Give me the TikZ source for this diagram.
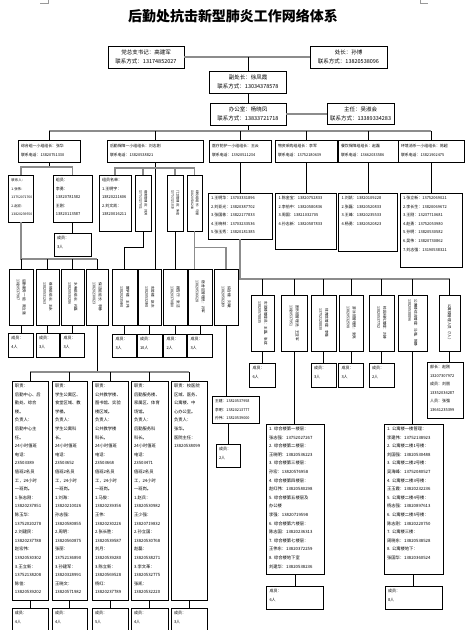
\documentclass[tikz,border=0pt]{standalone}
\usepackage{fontspec}
\setmainfont{Noto Sans CJK SC}
\usepackage{graphicx}
\usepackage{tikz}
\usetikzlibrary{calc}
\newcommand\vtext[2]{\rotatebox{-90}{\begin{tabular}{@{}l@{}}#1\\#2\end{tabular}}}

\begin{document}
\begin{tikzpicture}[x=1pt,y=-1pt,
  box/.style={draw,line width=0.7pt,fill=white,inner xsep=3pt,align=left},
  headbox/.style={box,align=center,inner ysep=1pt,font=\fontsize{5.5}{8.5}\selectfont},
  grpbox/.style={box,inner ysep=1pt,font=\fontsize{3.9}{9}\selectfont},
  infobox/.style={box,inner ysep=2pt,text height=4.5pt,font=\fontsize{4}{8.6}\selectfont},
  longbox/.style={infobox,font=\fontsize{4.3}{8.6}\selectfont},
  rotbox/.style={draw,line width=0.7pt,fill=white,inner sep=0pt,font=\fontsize{3.6}{6}\selectfont},
  gline/.style={draw=black!45,line width=1.3pt},
  bline/.style={draw=black,line width=0.6pt}]
\clip (0,0) rectangle (469,630);
\draw[black!40,line width=0.4pt] (40,3) -- (48,3) -- (48,0) (420,0) -- (420,3) -- (428,3);
\node[font=\fontsize{14}{16}\selectfont\bfseries] (title) at (233,16) {后勤处抗击新型肺炎工作网络体系};

\node[headbox,text width=70pt,minimum height=22] (dw)  at (146,57)    {党总支书记：高建军\\联系方式：13174852027};
\node[headbox,text width=71pt,minimum height=22] (cz)  at (348.5,57)  {处长：孙博\\联系方式：13820538096};
\node[headbox,text width=71pt,minimum height=22] (fcz) at (248,82)    {副处长：徐凤霞\\联系方式：13034378578};
\node[headbox,text width=70pt,minimum height=22] (bgs) at (248,114)   {办公室：杨晓凤\\联系方式：13833721718};
\node[headbox,text width=61pt,minimum height=21] (zr)  at (360.5,114) {主任：吴淑会\\联系方式：13389334283};

\node[grpbox,text width=56pt,minimum height=22] (g1) at (49,151)  {综合组一小组组长：张华\\联系电话：13820751330};
\node[grpbox,text width=90pt,minimum height=22] (g2) at (155,151) {后勤保障一小组组长：刘志刚\\联系电话：13820538821};
\node[grpbox,text width=56pt,minimum height=22] (g3) at (240,151) {医疗防护一小组组长：王云\\联系电话：13920511234};
\node[grpbox,text width=56pt,minimum height=22] (g4) at (306,151) {物资采购组组长：李军\\联系电话：13752180639};
\node[grpbox,text width=54pt,minimum height=22] (g5) at (368,151) {餐饮保障组组长：赵磊\\联系电话：13662033586};
\node[grpbox,text width=60pt,minimum height=22] (g6) at (431,151) {环境消杀一小组组长：陈超\\联系电话：13821902475};

\node[infobox,text width=19pt,text depth=38.5pt,font=\fontsize{3.4}{8.6}\selectfont] (l1) at (21,198.5) {联系人：\\1.张伟：\\13752071760\\2.赵宏：\\13820239550};
\node[infobox,text width=33pt,text depth=38.5pt] (l2)  at (72.5,198.5) {组员：\\李勇：\\13820781582\\王刚：\\13820113587};
\node[infobox,text width=31pt,text depth=14.5pt] (l2b) at (72.5,244.5) {成员：\\3人};
\node[infobox,text width=26pt,text depth=47.5pt] (m1)  at (115,203)    {组员名单：\\1.王明宇：\\13820221606\\2.刘文凯：\\13820016211};
\node[rotbox,minimum width=16,minimum height=56,font=\fontsize{3.2}{5}\selectfont] (m2) at (143,203)   {\vtext{宿舍管理员：刘芳}{13752127811}};
\node[rotbox,minimum width=16,minimum height=56,font=\fontsize{3.2}{5}\selectfont] (m3) at (175,203)   {\vtext{门卫管理员：朱宏}{13752121830}};
\node[rotbox,minimum width=15,minimum height=56,font=\fontsize{3.2}{5}\selectfont] (m4) at (194.5,203) {\vtext{绿化组组长：马丽}{13820536208}};

\node[infobox,text width=58pt,text depth=37.5pt] (r1) at (240,216) {1.王明华：13703331896\\2.刘亚光：13820387702\\3.张国栋：13822177833\\4.王晓林：13703233536\\5.张玉秀：13820181385};
\node[infobox,text width=55pt,text depth=47.5pt] (r2) at (306,221) {1.陈金宝：13820752833\\2.李伯中：13820580836\\3.周国：13821032705\\4.孙志新：13820587833};
\node[infobox,text width=53pt,text depth=49.5pt] (r3) at (368,222) {1.刘凯：13820109228\\2.张磊：13820520833\\3.王峰：13820235533\\4.杨勇：13820520823};
\node[infobox,text width=56pt,text depth=65.5pt] (r4) at (431,230) {1.张立新：13752069021\\2.李长生：13820069672\\3.王刚：13237710681\\4.赵勇：13752053980\\5.孙明：13820530582\\6.吴伟：13820730862\\7.刘志强：13190538321};

\node[rotbox,minimum width=24,minimum height=56] (v1) at (21,297)    {\vtext{后勤服务一组：周立强}{13820537987}};
\node[rotbox,minimum width=23,minimum height=56] (v2) at (47.5,297)  {\vtext{维修组组长：王永}{13820531263}};
\node[rotbox,minimum width=23,minimum height=56] (v3) at (72.5,297)  {\vtext{水电组组长：孙磊}{13820530286}};
\node[rotbox,minimum width=22,minimum height=56] (v4) at (97,297)    {\vtext{保洁组组长：李静}{13820230823}};
\node[rotbox,minimum width=25,minimum height=56] (m5) at (124.5,297) {\vtext{教学楼：王伟}{13820235698}};
\node[rotbox,minimum width=23,minimum height=56] (m6) at (149.5,297) {\vtext{实验楼：赵东}{13820532098}};
\node[rotbox,minimum width=24,minimum height=56] (m7) at (175,297)   {\vtext{报告厅：张洁}{13820370830}};
\node[rotbox,minimum width=24,minimum height=56] (m8) at (200,297)   {\vtext{宿舍区管理员：孙军}{13820536628}};
\node[rotbox,minimum width=24,minimum height=56] (m9) at (226,297)   {\vtext{综合楼：刘敏}{13820582209}};

\node[infobox,text width=19pt,text depth=15.5pt] (s1) at (21,345)     {成员：\\4人};
\node[infobox,text width=17pt,text depth=15.5pt] (s2) at (47.5,345)   {成员：\\3人};
\node[infobox,text width=18pt,text depth=15.5pt] (s3) at (72.5,345)   {成员：\\3人};
\node[infobox,text width=18pt,text depth=14.5pt] (t5) at (124.5,345.5) {成员：\\3人};
\node[infobox,text width=19pt,text depth=14.5pt] (t6) at (149.5,345.5) {成员：\\10人};
\node[infobox,text width=17pt,text depth=14.5pt] (t7) at (175,345.5)   {成员：\\2人};
\node[infobox,text width=19pt,text depth=14.5pt] (t8) at (200,345.5)   {成员：\\3人};

\node[rotbox,minimum width=23,minimum height=56] (w1) at (262.5,323) {\vtext{实验楼管理员：王磊、张斌}{13820578835}};
\node[rotbox,minimum width=26,minimum height=56] (w2) at (294,323)   {\vtext{图书馆管理员：王亚军}{13820537951}};
\node[rotbox,minimum width=25,minimum height=56] (w3) at (323.5,323) {\vtext{体育馆管理：李强}{13752128830}};
\node[rotbox,minimum width=24,minimum height=56] (w4) at (351,323)   {\vtext{游泳馆管理员：张亮}{13820532598}};
\node[rotbox,minimum width=25,minimum height=56] (w5) at (381.5,323) {\vtext{校园绿化管理：刘涛}{13820537752}};
\node[rotbox,minimum width=29,minimum height=56] (w6) at (412.5,323) {\vtext{公寓楼综合管理：马强、陈静}{13820538896}};
\node[rotbox,minimum width=21,minimum height=56] (w7) at (449.5,323) {\rotatebox{-90}{公寓楼管理人员（7人）}};

\node[infobox,text width=20pt,text depth=15.5pt] (x1) at (262.5,375) {成员：\\6人};
\node[infobox,text width=19pt,text depth=15.5pt] (x3) at (323.5,375) {成员：\\3人};
\node[infobox,text width=19pt,text depth=15.5pt] (x4) at (351,375)   {成员：\\3人};
\node[infobox,text width=19pt,text depth=15.5pt] (x5) at (381.5,375) {成员：\\2人};
\node[infobox,text width=30pt,text depth=47.5pt] (x7) at (445,390)   {部长：赵刚\\13207307972\\成员：刘丽\\13352034287\\人员：张强\\13641235399};

\node[infobox,text width=41pt,text depth=18.5pt,font=\fontsize{3.8}{8.5}\selectfont] (ph) at (235.5,409.5) {王建：13820537958\\李明：13820213777\\孙伟：13820539000};
\node[infobox,text width=18pt,text depth=14.5pt] (t9) at (228,455.5) {成员：\\2人};

\node[longbox,text width=30pt,text depth=210.5pt] (b1) at (30,490.5) {职责：\\后勤中心、后\\勤处、综合\\楼。\\负责人：\\后勤中心主\\任。\\24小时值班\\电话：\\23503389\\值班2名员\\工，24小时\\一班岗。\\1.张志刚：\\13820237851\\陈玉华：\\13752020278\\2.刘建民：\\13820237788\\赵宏伟：\\13920530302\\3.王立新：\\13752138208\\陈佳：\\13820539202};
\node[longbox,text width=29pt,text depth=210.5pt] (b2) at (69.5,490.5) {职责：\\学生公寓区、\\食堂区域、教\\学楼。\\负责人：\\学生公寓科\\长。\\24小时值班\\电话：\\23503652\\值班2名员\\工，24小时\\一班岗。\\1.刘海：\\13820210026\\孙志强：\\13820580855\\2.周明：\\13820560875\\张丽：\\13752136890\\3.孙建军：\\13820328991\\王晓文：\\13820571982};
\node[longbox,text width=30pt,text depth=210.5pt] (b3) at (110,490.5) {职责：\\公共教学楼、\\图书馆、实验\\楼区域。\\负责人：\\公共教学楼\\科长。\\24小时值班\\电话：\\23503668\\值班2名员\\工，24小时\\一班岗。\\1.马俊：\\13820239356\\王伟：\\13820230226\\2.张长胜：\\13820539587\\刘月：\\13820539280\\3.陈立新：\\13820569528\\杨红：\\13820237789};
\node[longbox,text width=31pt,text depth=210.5pt] (b4) at (149.5,490.5) {职责：\\后勤服务楼、\\家属区、体育\\场馆。\\负责人：\\后勤服务科\\科长。\\24小时值班\\电话：\\23503471\\值班2名员\\工，24小时\\一班岗。\\1.赵兵：\\13820530982\\王少强：\\13820719832\\2.孙立国：\\13820530768\\赵磊：\\13820538271\\3.李文革：\\13820532775\\张凯：\\13820532220};
\node[longbox,text width=30pt,text depth=210.5pt] (b5) at (189,490.5) {职责：校医院\\区域、医务、\\公寓楼、中\\心办公室。\\负责人：\\张华。\\医院主任：\\13820538099};

\node[infobox,text width=30pt,text depth=15.5pt] (u1) at (30,620)    {成员：\\4人};
\node[infobox,text width=29pt,text depth=15.5pt] (u2) at (69.5,620)  {成员：\\4人};
\node[infobox,text width=30pt,text depth=15.5pt] (u3) at (110,620)   {成员：\\5人};
\node[infobox,text width=31pt,text depth=15.5pt] (u4) at (149.5,620) {成员：\\4人};
\node[infobox,text width=30pt,text depth=15.5pt] (u5) at (189,620)   {成员：\\3人};

\node[longbox,text width=52pt,text depth=141.5pt] (ls1) at (295,499) {1.\ 综合楼第一楼层：\\张志强：13752027267\\2.\ 综合楼第二楼层：\\王晓明：13820536223\\3.\ 综合楼第三楼层：\\孙宏：13820576958\\4.\ 综合楼第四楼层：\\赵红伟：13820580298\\5.\ 综合楼第五楼层及\\办公楼\\李强：13820719598\\6.\ 综合楼第六楼层：\\陈志国：13820236313\\7.\ 综合楼第七楼层：\\王伟东：13820372259\\8.\ 综合楼地下室\\刘建华：13820538236};
\node[longbox,text width=53pt,text depth=141.5pt] (ls2) at (413.5,499) {1.\ 公寓楼一楼管理：\\李建伟：13752138923\\2.\ 公寓楼二楼1号楼：\\刘国强：13820530488\\3.\ 公寓楼二楼2号楼：\\吴海峰：13752080527\\4.\ 公寓楼二楼3号楼：\\王玉霞：13820232236\\5.\ 公寓楼二楼4号楼：\\杨志强：13820897613\\6.\ 公寓楼二楼5号楼：\\陈志刚：13820220750\\7.\ 公寓楼三楼：\\周晓东：13820538528\\8.\ 公寓楼地下：\\张国华：13820360524};
\node[infobox,text width=51pt,text depth=14.5pt] (y1) at (295,597.5)   {成员：\\6人};
\node[infobox,text width=51pt,text depth=14.5pt] (y2) at (413.5,597.5) {成员：\\8人};

\coordinate (j0) at (248,131);
\coordinate (j1) at (49,167);
\coordinate (j2) at (155,168);
\coordinate (j3) at (21,259);
\coordinate (j4) at (97,372);
\coordinate (j5) at (240,279);

\draw[gline] (dw.east) -- (cz.west);
\draw[bline] (fcz.north) -- (fcz.north |- dw.east);
\draw[bline] (fcz.south) -- (bgs.north);
\draw[gline] (bgs.east) -- (zr.west);
\draw[bline] (bgs.south) -- (j0);
\draw[gline] (j0 -| g1.north) -- (j0 -| g6.north);
\foreach \n in {g1,g2,g3,g4,g5,g6} \draw[bline] (\n.north) -- (\n.north |- j0);

\draw[bline] (g1.south) -- (j1);
\draw[gline] (l1.north) |- (j1) -| (l2.north);
\draw[gline] (l1.south) -- (j3) -- (j3 -| v4.north);
\foreach \n in {v1,v2,v3,v4} \draw[bline] (\n.north) -- (\n.north |- j3);
\draw[bline] (v4.south) -- (j4);
\draw[gline] (j4 -| b1.north) -- (j4 -| b5.north);
\foreach \n in {b1,b2,b3,b4,b5} \draw[bline] (\n.north) -- (\n.north |- j4);

\draw[bline] (g2.south) -- (g2.south |- m6.north);
\draw[gline] (m1.north) |- (j2) -| (m4.north);
\foreach \n in {m2,m3} \draw[gline] (\n.north) -- (\n.north |- j2);
\draw[bline] (m2.south) -- ++(0,16) -| (m5.north);
\draw[gline] (m4.south) -- (m4.south |- m8.north);
\draw[gline] (m4.south) -- ++(0,16) -| (m9.north);
\draw[bline] (m9.south) -- (m9.south |- ph.north);
\draw[bline] (t9.north) -- (t9.north |- ph.south);

\draw[gline] (r1.south) -- (j5) -- (j5 -| w7.north);
\foreach \n in {w1,w2,w3,w4,w5,w6,w7} \draw[bline] (\n.north) -- (\n.north |- j5);
\draw[bline] (w2.south) -- (w2.south |- ls1.north);
\draw[bline] (w6.south) -- (w6.south |- ls2.north);
\draw[bline] (w7.south) -- (w7.south |- x7.north);

\foreach \a/\b in {g3/r1,g4/r2,g5/r3,g6/r4,l2/l2b,m3/m7,v1/s1,v2/s2,v3/s3,m5/t5,m6/t6,m7/t7,m8/t8,w1/x1,w3/x3,w4/x4,w5/x5,ls1/y1,ls2/y2,b1/u1,b2/u2,b3/u3,b4/u4,b5/u5}
  \draw[bline] (\a.south) -- (\b.north);
\end{tikzpicture}
\end{document}
